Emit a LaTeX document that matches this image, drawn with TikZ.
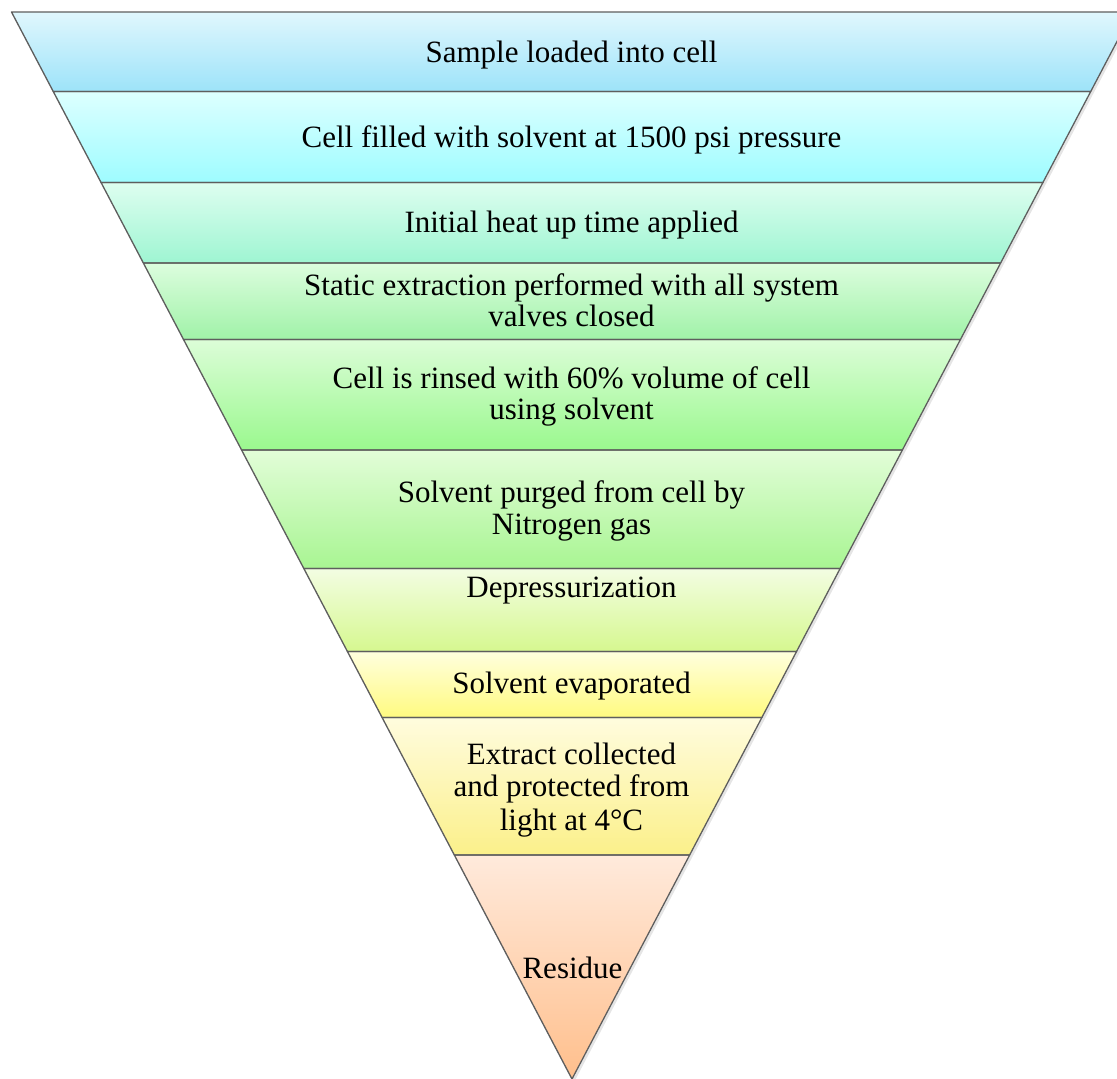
\documentclass[tikz,border=0pt]{standalone}
\usepackage{fontspec}
\setmainfont{Liberation Serif}
% band colours: top and bottom of each gradient
\definecolor{bandAt}{HTML}{E0F7FD}\definecolor{bandAb}{HTML}{9DE3F9}
\definecolor{bandBt}{HTML}{DDFFFF}\definecolor{bandBb}{HTML}{9EFCFF}
\definecolor{bandCt}{HTML}{DEFEF0}\definecolor{bandCb}{HTML}{9EF5D2}
\definecolor{bandDt}{HTML}{DCFDDE}\definecolor{bandDb}{HTML}{A0F2A8}
\definecolor{bandEt}{HTML}{DCFDD8}\definecolor{bandEb}{HTML}{9AF88E}
\definecolor{bandFt}{HTML}{E2FDD8}\definecolor{bandFb}{HTML}{A8F592}
\definecolor{bandGt}{HTML}{F3FDE2}\definecolor{bandGb}{HTML}{D6F890}
\definecolor{bandHt}{HTML}{FFFFDE}\definecolor{bandHb}{HTML}{FFFA80}
\definecolor{bandIt}{HTML}{FFFCDE}\definecolor{bandIb}{HTML}{FBF08A}
\definecolor{bandJt}{HTML}{FFEADC}\definecolor{bandJb}{HTML}{FFBF8C}
\definecolor{edgegray}{HTML}{5E5E5E}
\begin{document}
\begin{tikzpicture}[x=1pt,y=-1pt,
  lbl/.style={font=\fontsize{31}{37}\selectfont, anchor=base, inner sep=0pt, text=black},
  edge/.style={draw=edgegray, line width=1.3pt, line join=round},
  shadowline/.style={draw=black, opacity=0.1, line width=2.5pt, line join=round}]
\useasboundingbox (0,0) rectangle (1117,1079);
\clip (0,0) rectangle (1117,1079);
\def\cx{572}
\def\slope{0.5253}
% soft shadow along the outer edge
\draw[shadowline] (\cx-560.5+1.5,13.5) -- (\cx+1.5,1080.5) -- (\cx+560.5+1.5,13.5);
% shaded bands of the funnel
\foreach \ya/\yb/\ct/\cb in {12/91.5/bandAt/bandAb, 91.5/182.5/bandBt/bandBb,
    182.5/263/bandCt/bandCb, 263/339.5/bandDt/bandDb, 339.5/450/bandEt/bandEb,
    450/568.5/bandFt/bandFb, 568.5/651.5/bandGt/bandGb, 651.5/717.5/bandHt/bandHb,
    717.5/855/bandIt/bandIb, 855/1079/bandJt/bandJb} {
  \pgfmathsetmacro\la{\cx-\slope*(1079-\ya)}
  \pgfmathsetmacro\ra{\cx+\slope*(1079-\ya)}
  \pgfmathsetmacro\lb{\cx-\slope*(1079-\yb)}
  \pgfmathsetmacro\rb{\cx+\slope*(1079-\yb)}
  \shade[top color=\ct, bottom color=\cb] (\la,\ya) -- (\ra,\ya) -- (\rb,\yb) -- (\lb,\yb) -- cycle;
}
% band outlines
\foreach \ya/\yb in {12/91.5, 91.5/182.5, 182.5/263, 263/339.5, 339.5/450,
    450/568.5, 568.5/651.5, 651.5/717.5, 717.5/855, 855/1079} {
  \pgfmathsetmacro\la{\cx-\slope*(1079-\ya)}
  \pgfmathsetmacro\ra{\cx+\slope*(1079-\ya)}
  \pgfmathsetmacro\lb{\cx-\slope*(1079-\yb)}
  \pgfmathsetmacro\rb{\cx+\slope*(1079-\yb)}
  \draw[edge] (\la,\ya) -- (\ra,\ya) -- (\rb,\yb) -- (\lb,\yb) -- cycle;
}
% step labels
\node[lbl] (s1)  at (571.5,62)  {Sample loaded into cell};
\node[lbl] (s2)  at (571.5,147) {Cell filled with solvent at 1500 psi pressure};
\node[lbl] (s3)  at (571.5,232) {Initial heat up time applied};
\node[lbl] (s4a) at (571.5,295) {Static extraction performed with all system};
\node[lbl] (s4b) at (571.5,326) {valves closed};
\node[lbl] (s5a) at (571.5,388) {Cell is rinsed with 60\% volume of cell};
\node[lbl] (s5b) at (571.5,419) {using solvent};
\node[lbl] (s6a) at (571.5,502) {Solvent purged from cell by};
\node[lbl] (s6b) at (571.5,534) {Nitrogen gas};
\node[lbl] (s7)  at (571.5,597) {Depressurization};
\node[lbl] (s8)  at (571.5,693) {Solvent evaporated};
\node[lbl] (s9a) at (571.5,764) {Extract collected};
\node[lbl] (s9b) at (571.5,796) {and protected from};
\node[lbl] (s9c) at (571.5,830) {light at 4°C};
\node[lbl] (s10) at (572.5,978) {Residue};
\end{tikzpicture}
\end{document}
